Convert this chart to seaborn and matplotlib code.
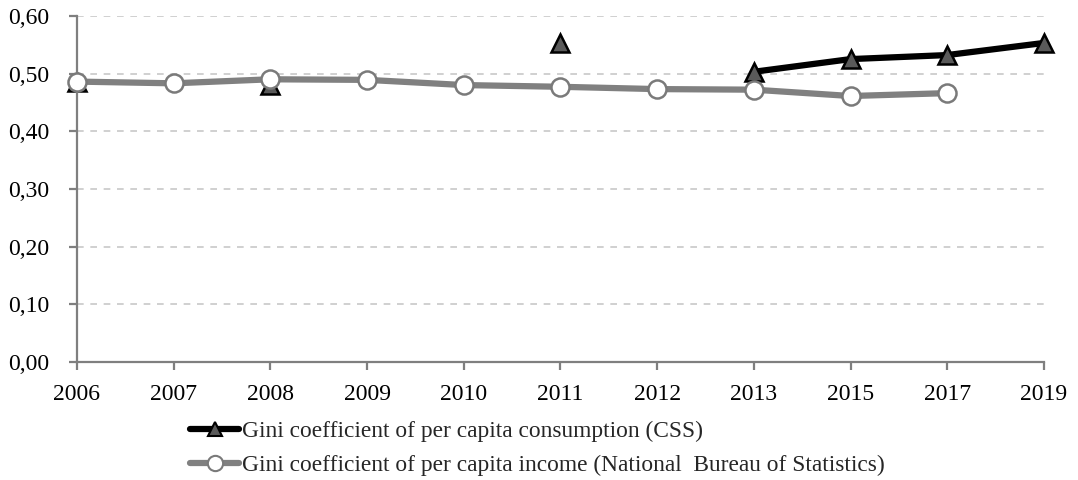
import numpy as np
import pandas as pd
import matplotlib
matplotlib.use("Agg")
import matplotlib.pyplot as plt
import seaborn as sns
from matplotlib.lines import Line2D

# Data
years = ["2006", "2007", "2008", "2009", "2010", "2011", "2012", "2013", "2015", "2017", "2019"]
gini_consumption = [0.485, np.nan, 0.480, np.nan, np.nan, 0.553, np.nan, 0.503, 0.525, 0.532, 0.553]
gini_income = [0.486, 0.483, 0.490, 0.489, 0.480, 0.477, 0.473, 0.472, 0.461, 0.466, np.nan]
y_ticks = [0.0, 0.1, 0.2, 0.3, 0.4, 0.5, 0.6]

label_cons = "Gini coefficient of per capita consumption (CSS)"
label_inc = "Gini coefficient of per capita income (National  Bureau of Statistics)"

sns.set_style("white")
plt.rcParams['font.family'] = ['Liberation Serif', 'DejaVu Serif']


def to_frame(values):
    df = pd.DataFrame({"pos": np.arange(len(years)), "value": values})
    # split into runs so gaps in the data break the line
    df["segment"] = df["value"].isna().cumsum()
    return df.dropna()


cons = to_frame(gini_consumption)
inc = to_frame(gini_income)

fig = plt.figure(figsize=(10.78, 4.8), dpi=100)
ax = fig.add_axes([0.0714, 0.246, 0.897, 0.721])

for yv in y_ticks[1:]:
    ax.axhline(yv, color="#c8c8c8", lw=1.2, ls=(0, (4, 4)), zorder=0)

sns.lineplot(data=inc, x="pos", y="value", units="segment", estimator=None,
             color="#808080", lw=4.5, marker="o", markersize=13,
             markerfacecolor="white", markeredgecolor="#7a7a7a",
             markeredgewidth=1.8, ax=ax, zorder=3, clip_on=False)
sns.lineplot(data=cons, x="pos", y="value", units="segment", estimator=None,
             color="black", lw=4.5, marker="^", markersize=13,
             markerfacecolor="#5a5a5a", markeredgecolor="black",
             markeredgewidth=1.8, ax=ax, zorder=2, clip_on=False)

ax.set_xlim(0, len(years) - 1)
ax.set_ylim(0, 0.6)
ax.set_xticks(np.arange(len(years)))
ax.set_xticklabels(years)
ax.set_yticks(y_ticks)
ax.set_yticklabels([f"{v:.2f}".replace(".", ",") for v in y_ticks])
ax.set_xlabel("")
ax.set_ylabel("")

for side in ["top", "right"]:
    ax.spines[side].set_visible(False)
for side in ["left", "bottom"]:
    ax.spines[side].set_color("#7f7f7f")
    ax.spines[side].set_linewidth(1.6)
ax.tick_params(axis="both", colors="#7f7f7f", width=1.6, length=6,
               labelcolor="black", labelsize=17, direction="out")
ax.tick_params(axis="x", pad=10)
ax.tick_params(axis="y", pad=14)
ax.yaxis.set_ticks_position("left")
ax.xaxis.set_ticks_position("bottom")

handles = [
    Line2D([], [], color="black", lw=4.5, marker="^", markersize=10,
           markerfacecolor="#5a5a5a", markeredgecolor="black", markeredgewidth=1.5),
    Line2D([], [], color="#808080", lw=4.5, marker="o", markersize=11,
           markerfacecolor="white", markeredgecolor="#7a7a7a", markeredgewidth=1.5),
]
fig.legend(handles, [label_cons, label_inc], loc="upper left",
           bbox_to_anchor=(0.168, 0.143), frameon=False, fontsize=16.8,
           handlelength=2.1, handletextpad=0.1, labelspacing=0.55,
           borderaxespad=0)

fig.savefig("out.png", dpi=100)
